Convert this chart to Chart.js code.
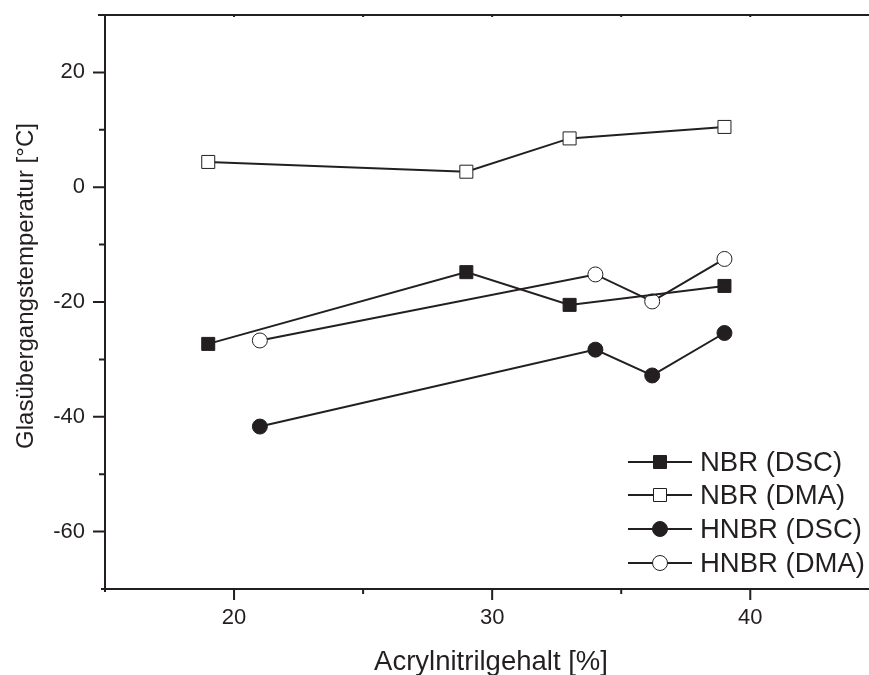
<!DOCTYPE html>
<html lang="de">
<head>
<meta charset="UTF-8">
<title>Glasübergangstemperatur</title>
<script src="https://cdn.jsdelivr.net/npm/chart.js@4/dist/chart.umd.min.js"></script>
<style>
  html, body { margin: 0; background: #fff; overflow: hidden; }
  #wrap { width: 869px; height: 675px; position: relative; }
  canvas { display: block; }
</style>
</head>
<body>
<div id="wrap"><canvas id="myChart"></canvas></div>
<script>
// data
const nbrX = [19, 29, 33, 39];
const nbrDsc = [-27.3, -14.8, -20.5, -17.2];
const nbrDma = [4.4, 2.7, 8.5, 10.5];
const hnbrX = [21, 34, 36.2, 39];
const hnbrDsc = [-41.7, -28.3, -32.8, -25.4];
const hnbrDma = [-26.7, -15.2, -19.9, -12.5];

const seriesNames = ['NBR (DSC)', 'NBR (DMA)', 'HNBR (DSC)', 'HNBR (DMA)'];
const xTicks = [15, 20, 25, 30, 35, 40];
const xLabels = [20, 30, 40];
const yTicks = [-70, -60, -50, -40, -30, -20, -10, 0, 10, 20, 30];
const yLabels = [-60, -40, -20, 0, 20];
const xTitle = 'Acrylnitrilgehalt [%]';
const yTitle = 'Glasübergangstemperatur [°C]';

const ink = '#231f20';
const font = "'Liberation Sans', Arial, sans-serif";

function pts(xs, ys) {
    return xs.map(function(x, i) { return { x: x, y: ys[i] }; });
}

function makeSet(label, data, style, filled) {
    return {
        label: label,
        data: data,
        showLine: true,
        borderColor: ink,
        borderWidth: 2,
        pointStyle: style,
        pointRadius: style === 'rect' ? 9.2 : 7.5,
        pointBackgroundColor: filled ? ink : '#fff',
        pointBorderColor: ink,
        pointBorderWidth: 1,
        pointHoverRadius: style === 'rect' ? 9.2 : 7.5
    };
}

// no extra room for label overflow, the plot box is fixed
function noPad(scale) {
    scale.paddingTop = 0;
    scale.paddingBottom = 0;
    scale.paddingLeft = 0;
    scale.paddingRight = 0;
}

// axes, tick marks, titles and legend drawn on top of the chart
const framePlugin = {
    id: 'frame',
    afterDraw(chart) {
        const ctx = chart.ctx;
        const xs = chart.scales.x;
        const ys = chart.scales.y;
        const a = chart.chartArea;
        ctx.save();
        ctx.strokeStyle = ink;
        ctx.lineWidth = 2;
        ctx.beginPath();
        // left axis
        ctx.moveTo(a.left, a.top);
        ctx.lineTo(a.left, a.bottom + 3);
        // bottom axis
        ctx.moveTo(a.left - 4, a.bottom);
        ctx.lineTo(a.right, a.bottom);
        // top line
        ctx.moveTo(a.left - 7, a.top);
        ctx.lineTo(a.right, a.top);
        xTicks.forEach(function(v) {
            const px = xs.getPixelForValue(v);
            if (v === xs.min) return;
            const len = xLabels.indexOf(v) >= 0 ? 11 : 5;
            ctx.moveTo(px, a.bottom);
            ctx.lineTo(px, a.bottom + len);
            ctx.moveTo(px, a.top);
            ctx.lineTo(px, a.top + 2);
        });
        yTicks.forEach(function(v) {
            const py = ys.getPixelForValue(v);
            if (v === ys.min || v === ys.max) return;
            const len = yLabels.indexOf(v) >= 0 ? 12 : 6;
            ctx.moveTo(a.left, py);
            ctx.lineTo(a.left - len, py);
        });
        ctx.stroke();

        // axis titles
        ctx.fillStyle = ink;
        ctx.textAlign = 'center';
        ctx.textBaseline = 'middle';
        ctx.font = '27.5px ' + font;
        ctx.fillText(xTitle, 491, 662);
        ctx.save();
        ctx.translate(26, 286);
        ctx.rotate(-Math.PI / 2);
        ctx.font = '24px ' + font;
        ctx.fillText(yTitle, 0, 0);
        ctx.restore();

        // legend
        ctx.font = '27.5px ' + font;
        ctx.textAlign = 'left';
        const rows = [462, 495, 529, 563];
        chart.data.datasets.forEach(function(ds, i) {
            const y = rows[i];
            ctx.beginPath();
            ctx.moveTo(628, y);
            ctx.lineTo(692, y);
            ctx.stroke();
            ctx.fillStyle = ds.pointBackgroundColor;
            ctx.lineWidth = 1;
            ctx.beginPath();
            if (ds.pointStyle === 'rect') {
                ctx.rect(660 - 6.5, y - 6.5, 13, 13);
            } else {
                ctx.arc(660, y, 7.5, 0, Math.PI * 2);
            }
            ctx.fill();
            ctx.stroke();
            ctx.lineWidth = 2;
            ctx.fillStyle = ink;
            ctx.fillText(ds.label, 700, y + 1);
        });
        ctx.restore();
    }
};

const ctx = document.getElementById('myChart').getContext('2d');
const myChart = new Chart(ctx, {
    type: 'scatter',
    data: {
        datasets: [
            makeSet(seriesNames[0], pts(nbrX, nbrDsc), 'rect', true),
            makeSet(seriesNames[1], pts(nbrX, nbrDma), 'rect', false),
            makeSet(seriesNames[2], pts(hnbrX, hnbrDsc), 'circle', true),
            makeSet(seriesNames[3], pts(hnbrX, hnbrDma), 'circle', false)
        ]
    },
    options: {
        responsive: true,
        maintainAspectRatio: false,
        animation: false,
        layout: { autoPadding: false, padding: { top: 15, right: 0, left: 0, bottom: 0 } },
        plugins: {
            legend: { display: false },
            tooltip: { enabled: false }
        },
        scales: {
            x: {
                type: 'linear',
                min: 15,
                max: 44.6,
                grid: { display: false, drawTicks: false },
                border: { display: false },
                afterBuildTicks: function(scale) {
                    scale.ticks = xTicks.map(function(v) { return { value: v }; });
                },
                afterFit: function(scale) { scale.height = 86; noPad(scale); },
                ticks: {
                    padding: 16,
                    color: ink,
                    maxRotation: 0,
                    autoSkip: false,
                    font: { family: font, size: 22 },
                    callback: function(v) { return xLabels.indexOf(v) >= 0 ? String(v) : ''; }
                }
            },
            y: {
                type: 'linear',
                min: -70,
                max: 30,
                grid: { display: false, drawTicks: false },
                border: { display: false },
                afterBuildTicks: function(scale) {
                    scale.ticks = yTicks.map(function(v) { return { value: v }; });
                },
                afterFit: function(scale) { scale.width = 105; noPad(scale); },
                ticks: {
                    padding: 20,
                    color: ink,
                    autoSkip: false,
                    font: { family: font, size: 22 },
                    callback: function(v) { return yLabels.indexOf(v) >= 0 ? String(v) : ''; }
                }
            }
        }
    },
    plugins: [framePlugin]
});
</script>
</body>
</html>
